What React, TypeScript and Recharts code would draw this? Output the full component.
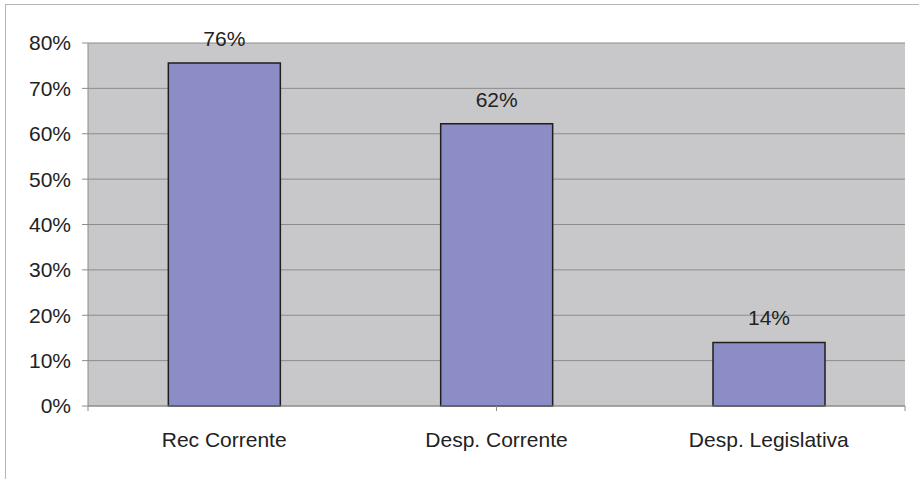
import { BarChart, Bar, XAxis, YAxis, CartesianGrid, LabelList, ReferenceLine } from "recharts";

const categories = ["Rec Corrente", "Desp. Corrente", "Desp. Legislativa"];
const shares = [0.756, 0.622, 0.14];
const yTicks = [0, 0.1, 0.2, 0.3, 0.4, 0.5, 0.6, 0.7, 0.8];
const boundaryTicks = [0, 1, 2, 3];

const chartData = categories.map((name, i) => ({ name, share: shares[i] }));

const pct = (v: number) => `${Math.round(v * 100)}%`;
const font = "'Liberation Sans', Arial, sans-serif";

export default function App() {
    return (
        <div
            style={{
                position: "absolute",
                left: 0,
                top: 0,
                width: 919,
                height: 479,
                background: "#fff",
                fontFamily: font,
            }}
        >
            {/* outer frame (only top + left edges visible in the reference) */}
            <div
                style={{
                    position: "absolute",
                    left: 5,
                    top: 4,
                    width: 914,
                    height: 475,
                    borderTop: "1px solid #b4b4b4",
                    borderLeft: "1px solid #b4b4b4",
                    boxSizing: "border-box",
                }}
            />
            <BarChart
                width={919}
                height={479}
                data={chartData}
                margin={{ top: 43, right: 14, left: 0, bottom: 0 }}
                barCategoryGap="29.5%"
                style={{ position: "absolute", left: 0, top: 0 }}
            >
                <CartesianGrid
                    xAxisId="z"
                    vertical={false}
                    fill="#c8c8ca"
                    fillOpacity={1}
                    stroke="#8c8c8c"
                    strokeWidth={1}
                />
                {/* boundary tick marks between categories */}
                <XAxis
                    xAxisId="a"
                    type="number"
                    domain={[0, 3]}
                    ticks={boundaryTicks}
                    height={1}
                    tickFormatter={() => ""}
                    tickSize={5}
                    tickLine={{ stroke: "#8c8c8c" }}
                    axisLine={{ stroke: "#8c8c8c" }}
                />
                <XAxis
                    xAxisId="z"
                    dataKey="name"
                    height={72}
                    tickLine={false}
                    axisLine={false}
                    tickMargin={19}
                    tick={{ fontSize: 21, fill: "#222", fontFamily: font }}
                />
                <YAxis
                    domain={[0, 0.8]}
                    ticks={yTicks}
                    tickFormatter={pct}
                    width={88}
                    tickSize={6}
                    tickMargin={11}
                    tickLine={{ stroke: "#8c8c8c" }}
                    axisLine={{ stroke: "#8c8c8c" }}
                    tick={{ fontSize: 21, fill: "#222", fontFamily: font }}
                />
                <ReferenceLine xAxisId="a" x={3} stroke="#8c8c8c" />
                <Bar
                    xAxisId="z"
                    dataKey="share"
                    fill="#8c8cc6"
                    stroke="#1e1e1e"
                    strokeWidth={1.5}
                    isAnimationActive={false}
                >
                    <LabelList
                        dataKey="share"
                        position="top"
                        offset={17}
                        formatter={(v: any) => pct(Number(v))}
                        style={{ fontSize: 21, fill: "#222", fontFamily: font }}
                    />
                </Bar>
            </BarChart>
        </div>
    );
}
